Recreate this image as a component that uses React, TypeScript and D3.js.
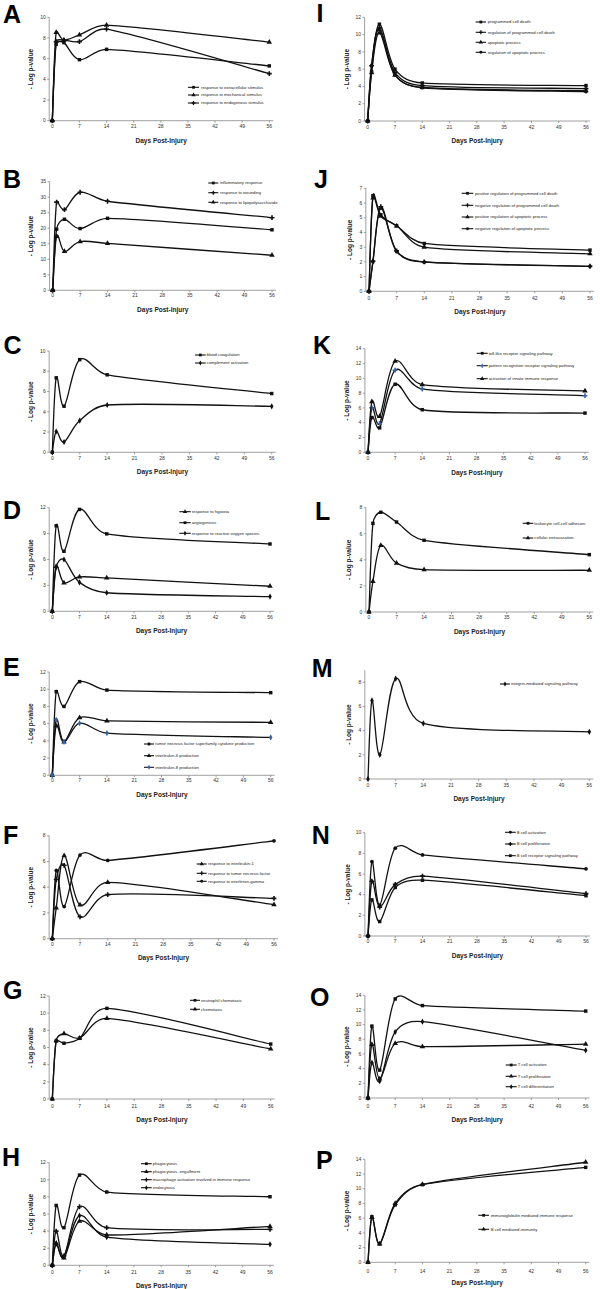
import React from 'react';
import * as d3 from 'd3';

// ---------- DATA ----------
const days = [0, 1, 3, 7, 14, 56];
const xTicks = [0, 7, 14, 21, 28, 35, 42, 49, 56];

// A
const aExtracellular = [0, 7.4, 7.55, 5.9, 6.9, 5.3];
const aMechanical = [0, 8.55, 7.8, 8.3, 9.25, 7.6];
const aEndogenous = [0, 7.65, 7.8, 7.65, 8.85, 4.55];
// B
const bInflammatory = [0, 19.7, 22.9, 19.9, 23.2, 19.5];
const bWounding = [0, 28.4, 26.0, 31.6, 28.7, 23.4];
const bLps = [0, 17.4, 12.5, 15.7, 15.1, 11.3];
// C
const cCoagulation = [0, 7.35, 4.55, 9.15, 7.65, 5.8];
const cComplement = [0, 2.05, 1.02, 3.13, 4.67, 4.54];
// D
const dHypoxia = [0, 5.2, 3.3, 3.98, 3.86, 2.9];
const dAngiogenesis = [0, 9.9, 6.95, 11.8, 8.97, 7.8];
const dRos = [0, 5.1, 6.0, 3.35, 2.15, 1.7];
// E
const eTnf = [0, 9.72, 8.0, 10.88, 9.9, 9.6];
const eIl6 = [0, 5.75, 3.87, 6.7, 6.32, 6.15];
const eIl8 = [0, 6.45, 3.87, 6.05, 4.9, 4.4];
// F
const fIl1 = [0, 2.4, 6.45, 2.62, 4.38, 2.64];
const fTnf = [0, 4.6, 5.7, 1.7, 3.42, 3.13];
const fIfn = [0, 5.3, 2.5, 6.5, 6.08, 7.6];
// G
const gNeutrophil = [0, 6.76, 6.5, 7.07, 10.56, 6.4];
const gChemotaxis = [0, 6.8, 7.6, 7.1, 9.4, 5.83];
// H
const hPhagocytosis = [0, 7.0, 4.4, 10.55, 8.57, 8.02];
const hEngulfment = [0, 2.6, 0.85, 5.15, 3.55, 4.55];
const hMacrophage = [0, 4.0, 1.1, 6.85, 4.4, 4.2];
const hEndocytosis = [0, 2.5, 1.0, 5.8, 3.3, 2.45];
// I
const iPcd = [0, 5.7, 11.2, 6.0, 4.4, 4.1];
const iRegPcd = [0, 6.4, 10.8, 5.6, 4.1, 3.75];
const iApoptotic = [0, 5.6, 10.2, 5.3, 3.9, 3.5];
const iRegApoptotic = [0, 6.4, 10.6, 5.35, 3.85, 3.4];
// J
const jPosPcd = [0, 6.5, 5.2, 4.45, 3.25, 2.8];
const jNegPcd = [0, 2.05, 5.75, 2.75, 2.0, 1.7];
const jPosApop = [0, 6.35, 5.1, 4.45, 3.0, 2.55];
const jNegApop = [0, 2.0, 5.65, 2.7, 1.98, 1.7];
// K
const kTlr = [0, 4.7, 3.3, 9.2, 5.75, 5.3];
const kPrr = [0, 6.0, 3.9, 11.1, 8.55, 7.65];
const kInnate = [0, 6.85, 4.85, 12.3, 9.15, 8.3];
// L
const lLeukocyte = [0, 6.8, 7.65, 6.9, 5.5, 4.4];
const lExtravasation = [0, 2.35, 5.1, 3.75, 3.25, 3.2];
// M
const mIntegrin = [0, 6.5, 2.0, 8.3, 4.6, 3.9];
// N
const nActivation = [0, 7.2, 3.0, 8.5, 7.85, 6.5];
const nProliferation = [0, 5.3, 2.8, 5.0, 5.8, 4.1];
const nBcr = [0, 3.5, 1.4, 4.7, 5.4, 3.9];
// O
const oActivation = [0, 9.8, 3.8, 13.5, 12.6, 11.85];
const oProliferation = [0, 7.3, 2.6, 7.45, 7.0, 7.35];
const oDifferentiation = [0, 4.8, 2.3, 9.0, 10.4, 6.5];
// P
const pIg = [0, 6.2, 2.5, 7.8, 10.55, 12.9];
const pBcell = [0, 6.1, 2.5, 8.0, 10.6, 13.6];

type Marker = 'square' | 'triangle' | 'plus' | 'circle' | 'diamond';
type Series = { name: string; values: number[]; marker: Marker; blue?: boolean };
type PanelDef = { letter: string; yMax: number; yStep: number; series: Series[] };

const panels: PanelDef[] = [
  { letter: 'A', yMax: 10, yStep: 2, series: [
    { name: 'response to extracellular stimulus', values: aExtracellular, marker: 'square' },
    { name: 'response to mechanical stimulus', values: aMechanical, marker: 'triangle' },
    { name: 'response to endogenous stimulus', values: aEndogenous, marker: 'plus' }] },
  { letter: 'B', yMax: 35, yStep: 5, series: [
    { name: 'inflammatory response', values: bInflammatory, marker: 'square' },
    { name: 'response to wounding', values: bWounding, marker: 'plus' },
    { name: 'response to lipopolysaccharide', values: bLps, marker: 'triangle' }] },
  { letter: 'C', yMax: 10, yStep: 2, series: [
    { name: 'blood coagulation', values: cCoagulation, marker: 'square' },
    { name: 'complement activation', values: cComplement, marker: 'diamond' }] },
  { letter: 'D', yMax: 12, yStep: 3, series: [
    { name: 'response to hypoxia', values: dHypoxia, marker: 'triangle' },
    { name: 'angiogenesis', values: dAngiogenesis, marker: 'square' },
    { name: 'response to reactive oxygen species', values: dRos, marker: 'diamond' }] },
  { letter: 'E', yMax: 12, yStep: 2, series: [
    { name: 'tumor necrosis factor superfamily cytokine production', values: eTnf, marker: 'square' },
    { name: 'interleukin-6 production', values: eIl6, marker: 'triangle' },
    { name: 'interleukin-8 production', values: eIl8, marker: 'diamond', blue: true }] },
  { letter: 'F', yMax: 8, yStep: 2, series: [
    { name: 'response to interleukin-1', values: fIl1, marker: 'triangle' },
    { name: 'response to tumor necrosis factor', values: fTnf, marker: 'plus' },
    { name: 'response to interferon-gamma', values: fIfn, marker: 'circle' }] },
  { letter: 'G', yMax: 12, yStep: 2, series: [
    { name: 'neutrophil chemotaxis', values: gNeutrophil, marker: 'square' },
    { name: 'chemotaxis', values: gChemotaxis, marker: 'triangle' }] },
  { letter: 'H', yMax: 12, yStep: 2, series: [
    { name: 'phagocytosis', values: hPhagocytosis, marker: 'square' },
    { name: 'phagocytosis, engulfment', values: hEngulfment, marker: 'triangle' },
    { name: 'macrophage activation involved in immune response', values: hMacrophage, marker: 'plus' },
    { name: 'endocytosis', values: hEndocytosis, marker: 'diamond' }] },
  { letter: 'I', yMax: 12, yStep: 2, series: [
    { name: 'programmed cell death', values: iPcd, marker: 'square' },
    { name: 'regulation of programmed cell death', values: iRegPcd, marker: 'plus' },
    { name: 'apoptotic process', values: iApoptotic, marker: 'triangle' },
    { name: 'regulation of apoptotic process', values: iRegApoptotic, marker: 'circle' }] },
  { letter: 'J', yMax: 7, yStep: 1, series: [
    { name: 'positive regulation of programmed cell death', values: jPosPcd, marker: 'square' },
    { name: 'negative regulation of programmed cell death', values: jNegPcd, marker: 'plus' },
    { name: 'positive regulation of apoptotic process', values: jPosApop, marker: 'triangle' },
    { name: 'negative regulation of apoptotic process', values: jNegApop, marker: 'circle' }] },
  { letter: 'K', yMax: 14, yStep: 2, series: [
    { name: 'toll-like receptor signaling pathway', values: kTlr, marker: 'square' },
    { name: 'pattern recognition receptor signaling pathway', values: kPrr, marker: 'plus', blue: true },
    { name: 'activation of innate immune response', values: kInnate, marker: 'triangle' }] },
  { letter: 'L', yMax: 8, yStep: 2, series: [
    { name: 'leukocyte cell-cell adhesion', values: lLeukocyte, marker: 'square' },
    { name: 'cellular extravasation', values: lExtravasation, marker: 'triangle' }] },
  { letter: 'M', yMax: 9, yStep: 2, series: [
    { name: 'integrin-mediated signaling pathway', values: mIntegrin, marker: 'diamond' }] },
  { letter: 'N', yMax: 10, yStep: 2, series: [
    { name: 'B cell activation', values: nActivation, marker: 'circle' },
    { name: 'B cell proliferation', values: nProliferation, marker: 'plus' },
    { name: 'B cell receptor signaling pathway', values: nBcr, marker: 'square' }] },
  { letter: 'O', yMax: 14, yStep: 2, series: [
    { name: 'T cell activation', values: oActivation, marker: 'square' },
    { name: 'T cell proliferation', values: oProliferation, marker: 'triangle' },
    { name: 'T cell differentiation', values: oDifferentiation, marker: 'diamond' }] },
  { letter: 'P', yMax: 14, yStep: 2, series: [
    { name: 'immunoglobulin mediated immune response', values: pIg, marker: 'square' },
    { name: 'B cell mediated immunity', values: pBcell, marker: 'triangle' }] },
];

// ---------- LAYOUT ----------
type Layout = {
  x0: number; x56: number; yTop: number; y0: number;
  letterX: number; letterY: number; xLabelY: number; xTitleY: number; yTitleX: number;
  legX1: number; legX2: number; legTX: number; legY: number[];
};
const layouts: Record<string, Layout> = {
  A: { x0: 52.3, x56: 269.3, yTop: 17.3, y0: 120.7, letterX: 3, letterY: 23, xLabelY: 126.7, xTitleY: 140.3, yTitleX: 30.7, legX1: 188, legX2: 199, legTX: 201, legY: [87.3, 95, 103] },
  B: { x0: 52.7, x56: 272, yTop: 181.7, y0: 290.3, letterX: 3, letterY: 188, xLabelY: 295.7, xTitleY: 309.3, yTitleX: 30.7, legX1: 208.3, legX2: 218.3, legTX: 220, legY: [183, 192.7, 202.3] },
  C: { x0: 52.3, x56: 271.7, yTop: 351, y0: 452.3, letterX: 3.5, letterY: 354, xLabelY: 458.7, xTitleY: 472, yTitleX: 30.7, legX1: 195, legX2: 205.7, legTX: 206.7, legY: [355, 363] },
  D: { x0: 52.3, x56: 270, yTop: 507.7, y0: 611.3, letterX: 3, letterY: 519, xLabelY: 617, xTitleY: 631, yTitleX: 30.7, legX1: 179.3, legX2: 190.7, legTX: 191.7, legY: [511.7, 522.7, 533.3] },
  E: { x0: 52.3, x56: 270.7, yTop: 672, y0: 775.3, letterX: 3, letterY: 676, xLabelY: 780.7, xTitleY: 794.7, yTitleX: 30.7, legX1: 144, legX2: 154, legTX: 155.3, legY: [744, 755.7, 767.3] },
  F: { x0: 52.3, x56: 274, yTop: 835.7, y0: 938.7, letterX: 3, letterY: 844, xLabelY: 944.3, xTitleY: 957.3, yTitleX: 30.7, legX1: 196.7, legX2: 206.7, legTX: 208, legY: [864, 873.3, 881.3] },
  G: { x0: 52.3, x56: 270.7, yTop: 996, y0: 1099, letterX: 3, letterY: 999, xLabelY: 1106, xTitleY: 1120, yTitleX: 30.7, legX1: 190, legX2: 200, legTX: 201, legY: [1000.3, 1009.3] },
  H: { x0: 52.3, x56: 270, yTop: 1162.7, y0: 1265.3, letterX: 2, letterY: 1166, xLabelY: 1272, xTitleY: 1285.3, yTitleX: 30.7, legX1: 141, legX2: 151.7, legTX: 152.7, legY: [1163.7, 1171.7, 1179.7, 1187.7] },
  I: { x0: 367.7, x56: 586, yTop: 17.3, y0: 121, letterX: 316.5, letterY: 22, xLabelY: 127.3, xTitleY: 140.3, yTitleX: 346.7, legX1: 475.7, legX2: 486, legTX: 487.7, legY: [22, 32.3, 42.3, 52.3] },
  J: { x0: 369, x56: 590, yTop: 188.3, y0: 291.3, letterX: 314, letterY: 188, xLabelY: 298.3, xTitleY: 311.7, yTitleX: 349.3, legX1: 461.7, legX2: 473.3, legTX: 475, legY: [193.3, 205.3, 217, 228.7] },
  K: { x0: 368, x56: 585, yTop: 348.7, y0: 452.3, letterX: 313, letterY: 354, xLabelY: 458.7, xTitleY: 472.7, yTitleX: 346.7, legX1: 476.7, legX2: 487.7, legTX: 488.7, legY: [353.3, 365.7, 378.7] },
  L: { x0: 369, x56: 589.3, yTop: 507.7, y0: 612, letterX: 315, letterY: 520, xLabelY: 617.7, xTitleY: 632, yTitleX: 348.3, legX1: 522.7, legX2: 533.3, legTX: 534.3, legY: [523.3, 538] },
  M: { x0: 368, x56: 589.3, yTop: 670.2, y0: 779, letterX: 311.7, letterY: 677, xLabelY: 785.3, xTitleY: 798.3, yTitleX: 348.3, legX1: 500, legX2: 510, legTX: 511, legY: [684] },
  N: { x0: 368, x56: 586, yTop: 832.7, y0: 936, letterX: 311.7, letterY: 844, xLabelY: 941.7, xTitleY: 955.7, yTitleX: 348, legX1: 505, legX2: 515.7, legTX: 516.7, legY: [832.3, 844, 855.7] },
  O: { x0: 368, x56: 585.7, yTop: 995.3, y0: 1098, letterX: 310, letterY: 1006, xLabelY: 1106, xTitleY: 1120, yTitleX: 346.7, legX1: 505.7, legX2: 516.7, legTX: 517.7, legY: [1065, 1076.3, 1086.7] },
  P: { x0: 368, x56: 585.7, yTop: 1159.3, y0: 1262.3, letterX: 316, letterY: 1169, xLabelY: 1271, xTitleY: 1282.7, yTitleX: 346.7, legX1: 478.3, legX2: 489, legTX: 490.7, legY: [1215.3, 1229.3] },
};

const FONT = '"Liberation Sans", Arial, sans-serif';
const BLUE = '#3b63a8';

const symbolType: Record<Marker, d3.SymbolType> = {
  square: d3.symbolSquare,
  triangle: d3.symbolTriangle,
  plus: d3.symbolCross,
  circle: d3.symbolCircle,
  diamond: d3.symbolDiamond,
};
const symbolSize: Record<Marker, number> = { square: 12, triangle: 13, plus: 13, circle: 11, diamond: 11 };

function markerPath(m: Marker) {
  return d3.symbol().type(symbolType[m]).size(symbolSize[m])() || '';
}

// Spreadsheet-style smoothed line: Catmull-Rom tangents (1/6 of neighbour
// difference) with control handles limited relative to the segment length.
function smoothPath(pts: [number, number][], limit = 0.4): string {
  const n = pts.length;
  const T = pts.map((_, i) => {
    const prev = pts[Math.max(0, i - 1)];
    const next = pts[Math.min(n - 1, i + 1)];
    return [(next[0] - prev[0]) / 6, (next[1] - prev[1]) / 6];
  });
  const p = d3.path();
  p.moveTo(pts[0][0], pts[0][1]);
  for (let i = 0; i < n - 1; i++) {
    const a = pts[i], b = pts[i + 1];
    const d = Math.hypot(b[0] - a[0], b[1] - a[1]);
    const l1 = Math.hypot(T[i][0], T[i][1]) || 1;
    const l2 = Math.hypot(T[i + 1][0], T[i + 1][1]) || 1;
    const s1 = Math.min(1, (limit * d) / l1);
    const s2 = Math.min(1, (limit * d) / l2);
    p.bezierCurveTo(
      a[0] + T[i][0] * s1, a[1] + T[i][1] * s1,
      b[0] - T[i + 1][0] * s2, b[1] - T[i + 1][1] * s2,
      b[0], b[1]
    );
  }
  return p.toString();
}

function Panel({ p }: { p: PanelDef }) {
  const L = layouts[p.letter];
  const x = d3.scaleLinear().domain([0, 56]).range([L.x0, L.x56]);
  const y = d3.scaleLinear().domain([0, p.yMax]).range([L.y0, L.yTop]);
  const axL = x(-0.8);
  const axR = x(57);
  const yTicks = d3.range(0, p.yMax + 1e-9, p.yStep);
  const axisColor = '#888';
  return (
    <g>
      <text x={L.letterX} y={L.letterY} fontFamily={FONT} fontWeight="bold" fontSize={25} fill="#000">{p.letter}</text>
      <line x1={axL} x2={axL} y1={L.y0} y2={y(p.yMax)} stroke={axisColor} strokeWidth={0.8} />
      {yTicks.map((t) => (
        <g key={'y' + t}>
          <line x1={axL - 2} x2={axL} y1={y(t)} y2={y(t)} stroke={axisColor} strokeWidth={0.8} />
          <text x={axL - 3.5} y={y(t)} dy="0.35em" textAnchor="end" fontFamily={FONT} fontSize={5} fill="#333">{t}</text>
        </g>
      ))}
      <line x1={axL} x2={axR} y1={L.y0} y2={L.y0} stroke={axisColor} strokeWidth={0.8} />
      {xTicks.map((t) => (
        <g key={'x' + t}>
          <line x1={x(t)} x2={x(t)} y1={L.y0} y2={L.y0 + 2} stroke={axisColor} strokeWidth={0.8} />
          <text x={x(t)} y={L.xLabelY} dy="0.35em" textAnchor="middle" fontFamily={FONT} fontSize={5} fill="#333">{t}</text>
        </g>
      ))}
      <text x={(axL + axR) / 2} y={L.xTitleY} dy="0.35em" textAnchor="middle" fontFamily={FONT} fontWeight="bold" fontSize={6.5} fill="#222">Days Post-Injury</text>
      <text transform={`translate(${L.yTitleX},${(L.y0 + y(p.yMax)) / 2}) rotate(-90)`} dy="0.35em" textAnchor="middle" fontFamily={FONT} fontWeight="bold" fontSize={6.5} fill="#222">- Log p-value</text>
      {p.series.map((s, si) => {
        const pts = s.values.map((v, i) => [x(days[i]), y(v)] as [number, number]);
        return (
          <g key={'s' + si}>
            <path d={smoothPath(pts)} fill="none" stroke="#111" strokeWidth={1.3} />
            {pts.map((pt, i) => (
              <path key={i} d={markerPath(s.marker)} transform={`translate(${pt[0]},${pt[1]})`} fill={s.blue ? BLUE : '#111'} />
            ))}
          </g>
        );
      })}
      {p.series.map((s, si) => {
        const ly = L.legY[si];
        return (
          <g key={'l' + si}>
            <line x1={L.legX1} x2={L.legX2} y1={ly} y2={ly} stroke="#111" strokeWidth={1.1} />
            <path d={markerPath(s.marker)} transform={`translate(${(L.legX1 + L.legX2) / 2},${ly}) scale(0.8)`} fill={s.blue ? BLUE : '#111'} />
            <text x={L.legTX} y={ly} dy="0.35em" fontFamily={FONT} fontSize={4.2} fill="#222">{s.name}</text>
          </g>
        );
      })}
    </g>
  );
}

export default function App() {
  return (
    <svg width={600} height={1289} viewBox="0 0 600 1289" style={{ position: 'absolute', left: 0, top: 0, background: '#fff' }}>
      <rect x={0} y={0} width={600} height={1289} fill="#fff" />
      {panels.map((p) => <Panel key={p.letter} p={p} />)}
    </svg>
  );
}
